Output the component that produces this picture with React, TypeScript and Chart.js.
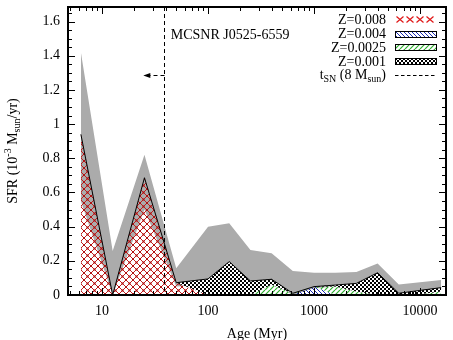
import React, { useEffect, useRef } from 'react';
import { Chart, registerables } from 'chart.js';

Chart.register(...registerables);

// ---- data (ages in Myr, SFR in 1e-3 Msun/yr) ----
const ages = [6.31, 12.59, 25.12, 50.12, 100, 158.5, 251.2, 398.1, 631, 1000, 1585, 2512, 3981, 6310, 10000, 15849];
const sfrZ008 = [0.94, 0, 0.686, 0.072, 0, 0, 0, 0, 0, 0, 0, 0, 0, 0, 0, 0];
const sfrZ004 = [0, 0, 0, 0, 0, 0, 0, 0, 0.005, 0.049, 0, 0, 0, 0, 0, 0];
const sfrZ0025 = [0, 0, 0, 0, 0, 0, 0, 0.06, 0.005, 0, 0.05, 0.02, 0, 0, 0.005, 0.02];
const sfrZ001 = [0, 0, 0, 0, 0.094, 0.195, 0.082, 0.032, 0, 0, 0.008, 0.048, 0.13, 0.01, 0.022, 0.023];
const sfrUpper = [1.42, 0.257, 0.82, 0.156, 0.4, 0.42, 0.263, 0.244, 0.14, 0.13, 0.13, 0.135, 0.185, 0.062, 0.075, 0.088];
const sfrLower = [0.55, 0, 0.5, 0.05, 0.06, 0.12, 0.06, 0.07, 0, 0.04, 0.05, 0.05, 0.1, 0, 0.02, 0.035];

const xTicks = [10, 100, 1000, 10000];
const yTicks = [0, 0.2, 0.4, 0.6, 0.8, 1, 1.2, 1.4, 1.6];
const xMin = 4.77;
const xMax = 17600;
const yMax = 1.685;
const tSN = 38.7; // Myr
const arrowTo = 24.5; // Myr
const arrowY = 1.287;
const labelText = 'MCSNR J0525-6559';
const labelX = 44.5;
const labelY = 1.495;
const legendLabels = ['Z=0.008', 'Z=0.004', 'Z=0.0025', 'Z=0.001'];

const FONT = "'Liberation Serif', 'DejaVu Serif', serif";

function cum(...arrs: number[][]) {
  return arrs[0].map((_, i) => arrs.reduce((s, a) => s + a[i], 0));
}

function makePattern(ctx: CanvasRenderingContext2D, size: number, draw: (g: CanvasRenderingContext2D, s: number) => void) {
  const c = document.createElement('canvas');
  c.width = size;
  c.height = size;
  const g = c.getContext('2d')!;
  draw(g, size);
  return ctx.createPattern(c, 'repeat')!;
}

type Piece = { t: string; size: number; dy: number };
function drawRich(ctx: CanvasRenderingContext2D, pieces: Piece[], x: number, y: number, align: 'left' | 'center' | 'right') {
  let w = 0;
  for (const p of pieces) {
    ctx.font = `${p.size}px ${FONT}`;
    w += ctx.measureText(p.t).width;
  }
  let cx = align === 'left' ? x : align === 'center' ? x - w / 2 : x - w;
  ctx.textAlign = 'left';
  ctx.textBaseline = 'alphabetic';
  for (const p of pieces) {
    ctx.font = `${p.size}px ${FONT}`;
    ctx.fillText(p.t, cx, y + p.dy);
    cx += ctx.measureText(p.t).width;
  }
}

export default function App() {
  const ref = useRef<HTMLCanvasElement>(null);

  useEffect(() => {
    document.body.style.margin = '0';
    const canvas = ref.current!;
    const ctx = canvas.getContext('2d')!;

    const redPat = makePattern(ctx, 7, (g, s) => {
      g.strokeStyle = '#c41c1c';
      g.lineWidth = 1;
      g.beginPath();
      g.moveTo(0, 0); g.lineTo(s, s);
      g.moveTo(s, 0); g.lineTo(0, s);
      g.stroke();
      g.fillStyle = '#b01010';
      g.fillRect(Math.floor(s / 2) - 0.5, Math.floor(s / 2) - 0.5, 2, 2);
      g.fillRect(0, 0, 1, 1); g.fillRect(s - 1, 0, 1, 1); g.fillRect(0, s - 1, 1, 1); g.fillRect(s - 1, s - 1, 1, 1);
    });
    const redLegend = makePattern(ctx, 10, (g, s) => {
      g.strokeStyle = '#e01818';
      g.lineWidth = 1.2;
      g.beginPath();
      g.moveTo(1.5, 0.5); g.lineTo(8.5, 6.5);
      g.moveTo(8.5, 0.5); g.lineTo(1.5, 6.5);
      g.stroke();
    });
    const bluePat = makePattern(ctx, 4, (g, s) => {
      g.strokeStyle = '#1a2ab0';
      g.lineWidth = 1;
      g.beginPath();
      for (let k = -1; k <= 1; k++) { g.moveTo(k * s, 0); g.lineTo(k * s + s, s); }
      g.stroke();
    });
    const greenPat = makePattern(ctx, 5, (g, s) => {
      g.strokeStyle = '#2fae2f';
      g.lineWidth = 1.2;
      g.beginPath();
      for (let k = -1; k <= 1; k++) { g.moveTo(k * s, s); g.lineTo(k * s + s, 0); }
      g.stroke();
    });
    const checkPat = makePattern(ctx, 4, (g) => {
      g.fillStyle = '#ffffff';
      g.fillRect(0, 0, 4, 4);
      g.fillStyle = '#000000';
      g.fillRect(0, 0, 2, 2);
      g.fillRect(2, 2, 2, 2);
    });

    const c1 = cum(sfrZ008);
    const c2 = cum(sfrZ008, sfrZ004);
    const c3 = cum(sfrZ008, sfrZ004, sfrZ0025);
    const c4 = cum(sfrZ008, sfrZ004, sfrZ0025, sfrZ001);
    const pts = (arr: number[]) => arr.map((v, i) => ({ x: ages[i], y: v }));

    const base = { pointRadius: 0, tension: 0, borderWidth: 0, borderColor: 'transparent' };

    const overlay = {
      id: 'overlay',
      afterDatasetsDraw(chart: any) {
        const c: CanvasRenderingContext2D = chart.ctx;
        const xs = chart.scales.x;
        const ys = chart.scales.y;
        const { left, right, top, bottom } = chart.chartArea;
        c.save();
        // t_SN dashed line
        const xd = Math.round(xs.getPixelForValue(tSN)) + 0.5;
        c.strokeStyle = '#000';
        c.lineWidth = 1;
        c.setLineDash([4, 3]);
        c.beginPath();
        c.moveTo(xd, top);
        c.lineTo(xd, bottom);
        c.stroke();
        // arrow
        const ya = Math.round(ys.getPixelForValue(arrowY)) + 0.5;
        const xa = xs.getPixelForValue(arrowTo);
        c.beginPath();
        c.moveTo(xd, ya);
        c.lineTo(xa + 6, ya);
        c.stroke();
        c.setLineDash([]);
        c.fillStyle = '#000';
        c.beginPath();
        c.moveTo(xa, ya);
        c.lineTo(xa + 7, ya - 2.5);
        c.lineTo(xa + 7, ya + 2.5);
        c.closePath();
        c.fill();

        // frame
        c.lineWidth = 2;
        c.strokeRect(left, top, right - left, bottom - top);
        // ticks
        c.lineWidth = 1;
        c.beginPath();
        const major = 7, minor = 4;
        for (let d = 1; d <= 10000; d *= 10) {
          for (let m = 1; m <= 9; m++) {
            const v = d * m;
            if (v < xMin || v > xMax) continue;
            const px = Math.round(xs.getPixelForValue(v)) + 0.5;
            const L = m === 1 ? major : minor;
            c.moveTo(px, bottom); c.lineTo(px, bottom - L);
            c.moveTo(px, top); c.lineTo(px, top + L);
          }
        }
        for (let i = 0; i <= 33; i++) {
          const v = i * 0.05;
          if (v > yMax) continue;
          const py = Math.round(ys.getPixelForValue(v)) + 0.5;
          const L = i % 4 === 0 ? major : minor;
          c.moveTo(left, py); c.lineTo(left + L, py);
          c.moveTo(right, py); c.lineTo(right - L, py);
        }
        c.stroke();

        // label
        c.fillStyle = '#000';
        c.font = `14px ${FONT}`;
        c.textAlign = 'left';
        c.textBaseline = 'alphabetic';
        c.fillText(labelText, xs.getPixelForValue(labelX), ys.getPixelForValue(labelY));

        // legend
        const tx = right - 60;
        const bx0 = right - 51, bx1 = right - 10;
        const rows = [24, 38, 51.7, 65.5, 79.3];
        const pats = [redLegend, bluePat, greenPat, checkPat];
        for (let i = 0; i < 4; i++) {
          c.font = `14px ${FONT}`;
          c.textAlign = 'right';
          c.fillStyle = '#000';
          c.fillText(legendLabels[i], tx, rows[i]);
          const cy = rows[i] - 4.5;
          const h = i === 0 ? 7 : 6;
          c.save();
          c.translate(bx0, Math.round(cy - h / 2));
          c.fillStyle = pats[i];
          c.fillRect(0, 0, bx1 - bx0, h);
          c.restore();
          if (i > 0) {
            c.strokeStyle = '#000';
            c.lineWidth = 1;
            c.strokeRect(bx0 + 0.5, Math.round(cy - h / 2) + 0.5, bx1 - bx0, h);
          }
        }
        c.fillStyle = '#000';
        drawRich(c, [
          { t: 't', size: 14, dy: 0 },
          { t: 'SN', size: 10, dy: 3 },
          { t: ' (8 M', size: 14, dy: 0 },
          { t: 'sun', size: 10, dy: 3 },
          { t: ')', size: 14, dy: 0 },
        ], tx, rows[4], 'right');
        c.strokeStyle = '#000';
        c.lineWidth = 1;
        c.setLineDash([3.5, 2.5]);
        c.beginPath();
        c.moveTo(bx0, Math.round(rows[4] - 4.5) + 0.5);
        c.lineTo(bx1, Math.round(rows[4] - 4.5) + 0.5);
        c.stroke();
        c.setLineDash([]);

        // y title
        c.translate(17, (top + bottom) / 2);
        c.rotate(-Math.PI / 2);
        drawRich(c, [
          { t: 'SFR (10', size: 14, dy: 0 },
          { t: '-3', size: 10, dy: -6 },
          { t: ' M', size: 14, dy: 0 },
          { t: 'sun', size: 10, dy: 3 },
          { t: '/yr)', size: 14, dy: 0 },
        ], 0, 0, 'center');
        c.restore();
      },
    };

    const chart = new Chart(ctx, {
      type: 'line',
      data: {
        datasets: [
          { ...base, label: 'total', data: pts(c4), borderColor: '#000', borderWidth: 1, fill: false, order: 0 },
          { ...base, label: 'Z=0.001', data: pts(c4), backgroundColor: checkPat, fill: 2, order: 1 },
          { ...base, label: 'Z=0.0025', data: pts(c3), backgroundColor: greenPat, fill: 3, order: 2 },
          { ...base, label: 'Z=0.004', data: pts(c2), backgroundColor: bluePat, fill: 4, order: 3 },
          { ...base, label: 'Z=0.008', data: pts(c1), backgroundColor: redPat, fill: 'origin', order: 4 },
          { ...base, label: 'upper', data: pts(sfrUpper), backgroundColor: '#ababab', fill: 6, order: 5 },
          { ...base, label: 'lower', data: pts(sfrLower), fill: false, order: 6 },
        ],
      },
      options: {
        responsive: false,
        animation: false,
        events: [],
        layout: { padding: { left: 0, top: 7, right: 7, bottom: 0 } },
        plugins: { legend: { display: false }, tooltip: { enabled: false } },
        scales: {
          x: {
            type: 'logarithmic',
            min: xMin,
            max: xMax,
            grid: { display: false, drawTicks: false },
            border: { display: false },
            afterBuildTicks: (s: any) => { s.ticks = xTicks.map((v) => ({ value: v })); },
            afterFit: (s: any) => { s.height = 45; s.paddingLeft = 0; s.paddingRight = 0; },
            ticks: {
              autoSkip: false,
              maxRotation: 0,
              padding: 8,
              color: '#000',
              font: { family: FONT, size: 14 },
              callback: (v: any) => String(v),
            },
            title: {
              display: true,
              text: 'Age (Myr)',
              color: '#000',
              font: { family: FONT, size: 14 },
              padding: { top: 0, bottom: -3 },
            },
          },
          y: {
            min: 0,
            max: yMax,
            grid: { display: false, drawTicks: false },
            border: { display: false },
            afterBuildTicks: (s: any) => { s.ticks = yTicks.map((v) => ({ value: v })); },
            afterFit: (s: any) => { s.width = 68; s.paddingTop = 0; s.paddingBottom = 0; },
            ticks: {
              padding: 8,
              color: '#000',
              font: { family: FONT, size: 14 },
              callback: (v: any) => String(Math.round(Number(v) * 10) / 10),
            },
          },
        },
      },
      plugins: [overlay],
    } as any);

    return () => chart.destroy();
  }, []);

  return <canvas ref={ref} width={453} height={340} style={{ display: 'block', width: 453, height: 340 }} />;
}
